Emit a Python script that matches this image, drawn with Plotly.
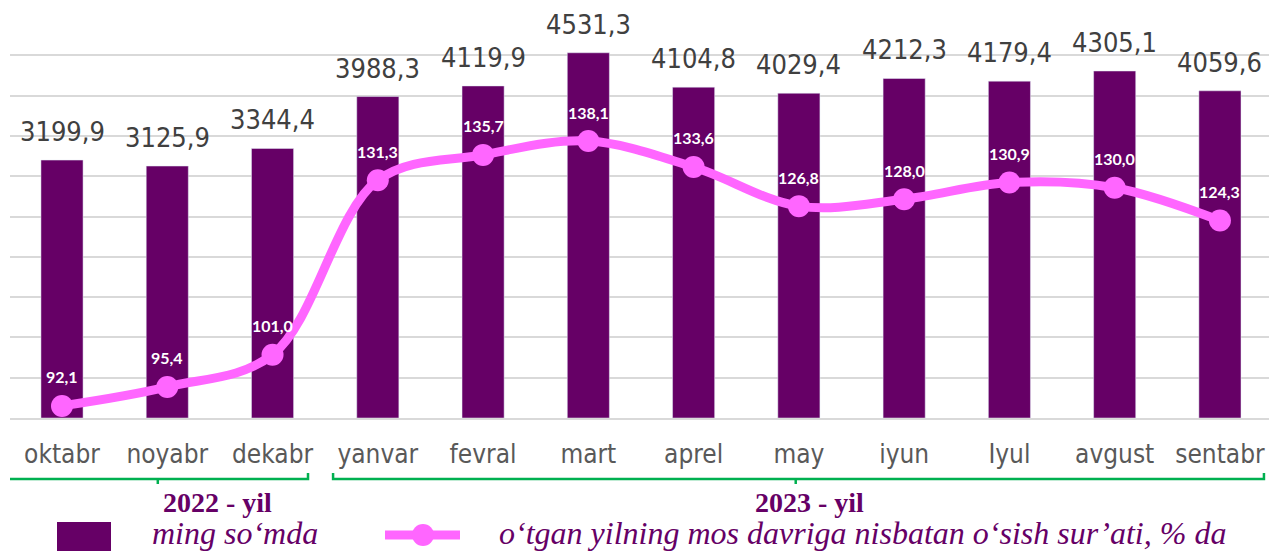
import plotly.graph_objects as go

# data
months = ['oktabr', 'noyabr', 'dekabr', 'yanvar', 'fevral', 'mart',
          'aprel', 'may', 'iyun', 'Iyul', 'avgust', 'sentabr']
wage = [3199.9, 3125.9, 3344.4, 3988.3, 4119.9, 4531.3,
        4104.8, 4029.4, 4212.3, 4179.4, 4305.1, 4059.6]
growth = [92.1, 95.4, 101.0, 131.3, 135.7, 138.1,
          133.6, 126.8, 128.0, 130.9, 130.0, 124.3]
years = ['2022 - yil', '2023 - yil']
legend_names = ['ming so‘mda', 'o‘tgan yilning mos davriga nisbatan o‘sish sur’ati, % da']

BAR = '#660066'
PINK = '#FF66FF'
GREEN = '#00B050'

W, H = 1269, 551
L, R, T, B = 10, 0, 15, 133
PH = H - T - B


def fmt(v):
    return f'{v:.1f}'.replace('.', ',')


def py(y):
    # pixel row -> paper y
    return (H - B - y) / PH


def px(x):
    # pixel column -> paper x
    return (x - L) / (W - L - R)


fig = go.Figure()
fig.add_trace(go.Bar(x=months, y=wage, marker_color=BAR, width=0.4,
                     name=legend_names[0], hoverinfo='skip'))
fig.add_trace(go.Scatter(x=months, y=growth, yaxis='y2', mode='lines+markers',
                         line=dict(color=PINK, width=9, shape='spline', smoothing=1.0),
                         marker=dict(size=22, color=PINK),
                         name=legend_names[1], hoverinfo='skip'))

# value labels
for m, v in zip(months, wage):
    fig.add_annotation(x=m, y=v, text=fmt(v), showarrow=False, yanchor='bottom',
                       yshift=11, font=dict(family='DejaVu Sans Condensed', size=27, color='#404040'))
for m, v in zip(months, growth):
    fig.add_annotation(x=m, y=v, yref='y2', text=fmt(v), showarrow=False, yanchor='middle',
                       yshift=29, font=dict(family='Lato', size=16, color='white', weight='bold'))

# year brackets
brackets = [(-0.513, 2.337, 0.91), (2.575, 11.418, 6.97)]
yb, yu, yd = py(479), py(473), py(484)
for (x0, x1, xc), lab in zip(brackets, years):
    fig.add_shape(type='path', xref='x', yref='paper',
                  path=f'M {x0},{yu} L {x0},{yb} L {x1},{yb} L {x1},{yu}',
                  line=dict(color=GREEN, width=2.5))
    fig.add_shape(type='line', xref='x', yref='paper', x0=xc, x1=xc, y0=yb, y1=yd,
                  line=dict(color=GREEN, width=2.5))
for xc, lab in zip([161, 809], years):
    fig.add_annotation(x=px(xc), y=py(503), xref='paper', yref='paper', yanchor='middle',
                       text='<b>' + lab + '</b>', showarrow=False,
                       font=dict(family='Liberation Serif', size=28, color=BAR))

# legend drawn by hand
fig.add_shape(type='rect', xref='paper', yref='paper', x0=px(57), x1=px(111), y0=py(522), y1=py(556),
              fillcolor=BAR, line=dict(width=0))
fig.add_shape(type='line', xref='paper', yref='paper', x0=px(385), x1=px(460), y0=py(535), y1=py(535),
              line=dict(color=PINK, width=9))
fig.add_shape(type='circle', xref='paper', yref='paper', x0=px(412), x1=px(434), y0=py(524), y1=py(546),
              fillcolor=PINK, line=dict(width=0))
for xl, lab in zip([150, 497], legend_names):
    fig.add_annotation(x=px(xl), y=py(533), xref='paper', yref='paper', xanchor='left', yanchor='middle',
                       text='<i>' + lab + '</i>', showarrow=False,
                       font=dict(family='Liberation Serif', size=32, color=BAR))

fig.update_layout(
    width=W, height=H, margin=dict(l=L, r=R, t=T, b=B),
    plot_bgcolor='white', paper_bgcolor='white', showlegend=False,
    xaxis=dict(range=[-0.494, 11.466], showline=True, linecolor='#D9D9D9', linewidth=2,
               ticks='', ticklabelstandoff=12,
               tickfont=dict(family='DejaVu Sans Condensed', size=26, color='#595959')),
    yaxis=dict(range=[0, 5000], dtick=500, showticklabels=False, gridcolor='#D9D9D9',
               gridwidth=2, zeroline=False),
    yaxis2=dict(range=[90, 160], overlaying='y', side='right', visible=False),
)

fig.write_html('out.html', config={'displayModeBar': False},
               post_script="document.body.style.margin='0';")
